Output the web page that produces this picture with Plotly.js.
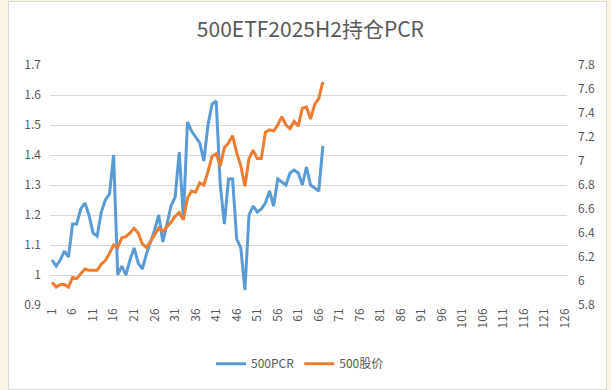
<!DOCTYPE html>
<html>
<head>
<meta charset="utf-8">
<script src="https://cdn.plot.ly/plotly-3.0.1.min.js"></script>
<style>
  html, body { margin: 0; padding: 0; width: 611px; height: 390px; overflow: hidden; background: #FCF5E3; }
  #frame { position: absolute; left: 8px; top: 1px; width: 599px; height: 389px; background: #fff; border: 1px solid #D9D9D9; box-sizing: border-box; }
  #chart { position: absolute; left: 0; top: 0; width: 611px; height: 390px; }
</style>
</head>
<body>
<div id="frame"></div>
<div id="chart"></div>
<script>
// Category axis labels (1..126, labelled every 5)
const categoryCount = 126;
const tickLabels = ["1","6","11","16","21","26","31","36","41","46","51","56","61","66","71","76","81","86","91","96","101","106","111","116","121","126"];

// 500PCR (left axis)
const pcr = [
  1.05, 1.03, 1.05, 1.08, 1.06, 1.17, 1.17, 1.22, 1.24, 1.20,
  1.14, 1.13, 1.21, 1.25, 1.27, 1.40, 1.00, 1.03, 1.00, 1.05,
  1.09, 1.04, 1.02, 1.07, 1.11, 1.15, 1.20, 1.11, 1.17, 1.23,
  1.26, 1.41, 1.19, 1.51, 1.48, 1.46, 1.44, 1.38, 1.50, 1.57,
  1.58, 1.30, 1.17, 1.32, 1.32, 1.12, 1.09, 0.95, 1.20, 1.23,
  1.21, 1.22, 1.24, 1.28, 1.23, 1.32, 1.31, 1.30, 1.34, 1.35,
  1.34, 1.30, 1.36, 1.30, 1.29, 1.28, 1.43
];

// 500股价 (right axis)
const price = [
  5.99, 5.95, 5.97, 5.97, 5.95, 6.03, 6.02, 6.06, 6.10, 6.09,
  6.09, 6.09, 6.14, 6.17, 6.23, 6.30, 6.28, 6.36, 6.37, 6.40,
  6.44, 6.40, 6.31, 6.28, 6.33, 6.38, 6.44, 6.415, 6.45, 6.49,
  6.54, 6.57, 6.51, 6.69, 6.75, 6.74, 6.82, 6.80, 6.91, 7.04,
  7.06, 6.96, 7.11, 7.15, 7.21, 7.07, 6.96, 6.79, 7.02, 7.09,
  7.02, 7.02, 7.24, 7.26, 7.25, 7.30, 7.37, 7.30, 7.27, 7.33,
  7.29, 7.44, 7.45, 7.35, 7.47, 7.52, 7.66
];

const xs = pcr.map((_, i) => i + 1);
const tickVals = tickLabels.map(Number);

const grey = '#595959';
const fontFam = '"Noto Sans CJK SC", "Noto Sans", sans-serif';

const traces = [
  { x: xs, y: pcr, name: '500PCR', type: 'scatter', mode: 'lines',
    line: { color: '#5B9BD5', width: 3 }, yaxis: 'y' },
  { x: xs, y: price, name: '500股价', type: 'scatter', mode: 'lines',
    line: { color: '#ED7D31', width: 3 }, yaxis: 'y2' }
];

const layout = {
  width: 611, height: 390,
  margin: { l: 50, r: 44, t: 65, b: 82 },
  paper_bgcolor: 'rgba(0,0,0,0)',
  plot_bgcolor: 'rgba(0,0,0,0)',
  font: { family: fontFam, color: grey, size: 12 },
  title: { text: '500ETF2025H2持仓PCR', font: { size: 21, color: grey, family: fontFam },
           x: 0.508, xanchor: 'center', y: 0.925, yanchor: 'middle', yref: 'container' },
  showlegend: true,
  legend: { orientation: 'h', x: 0.4836, xanchor: 'center', y: -0.245, yanchor: 'middle',
            font: { size: 12, color: grey }, bgcolor: 'rgba(0,0,0,0)', tracegroupgap: 0 },
  xaxis: {
    range: [0.5, categoryCount + 0.5], tickmode: 'array', tickvals: tickVals, ticktext: tickLabels,
    tickangle: -90, showgrid: false, zeroline: false, showline: false, ticks: '',
    tickfont: { size: 12, color: grey }, fixedrange: true
  },
  yaxis: {
    range: [0.9, 1.7], dtick: 0.1, tick0: 0.9, showgrid: true, gridcolor: '#D9D9D9', gridwidth: 1,
    zeroline: false, showline: false, ticks: '', ticklabelstandoff: 8,
    tickfont: { size: 12, color: grey }
  },
  yaxis2: {
    range: [5.8, 7.8], dtick: 0.2, tick0: 5.8, overlaying: 'y', side: 'right', showgrid: false,
    zeroline: false, showline: false, ticks: '', ticklabelstandoff: 10,
    tickfont: { size: 12, color: grey }
  }
};

Plotly.newPlot('chart', traces, layout, { displayModeBar: false, staticPlot: true });
</script>
</body>
</html>
